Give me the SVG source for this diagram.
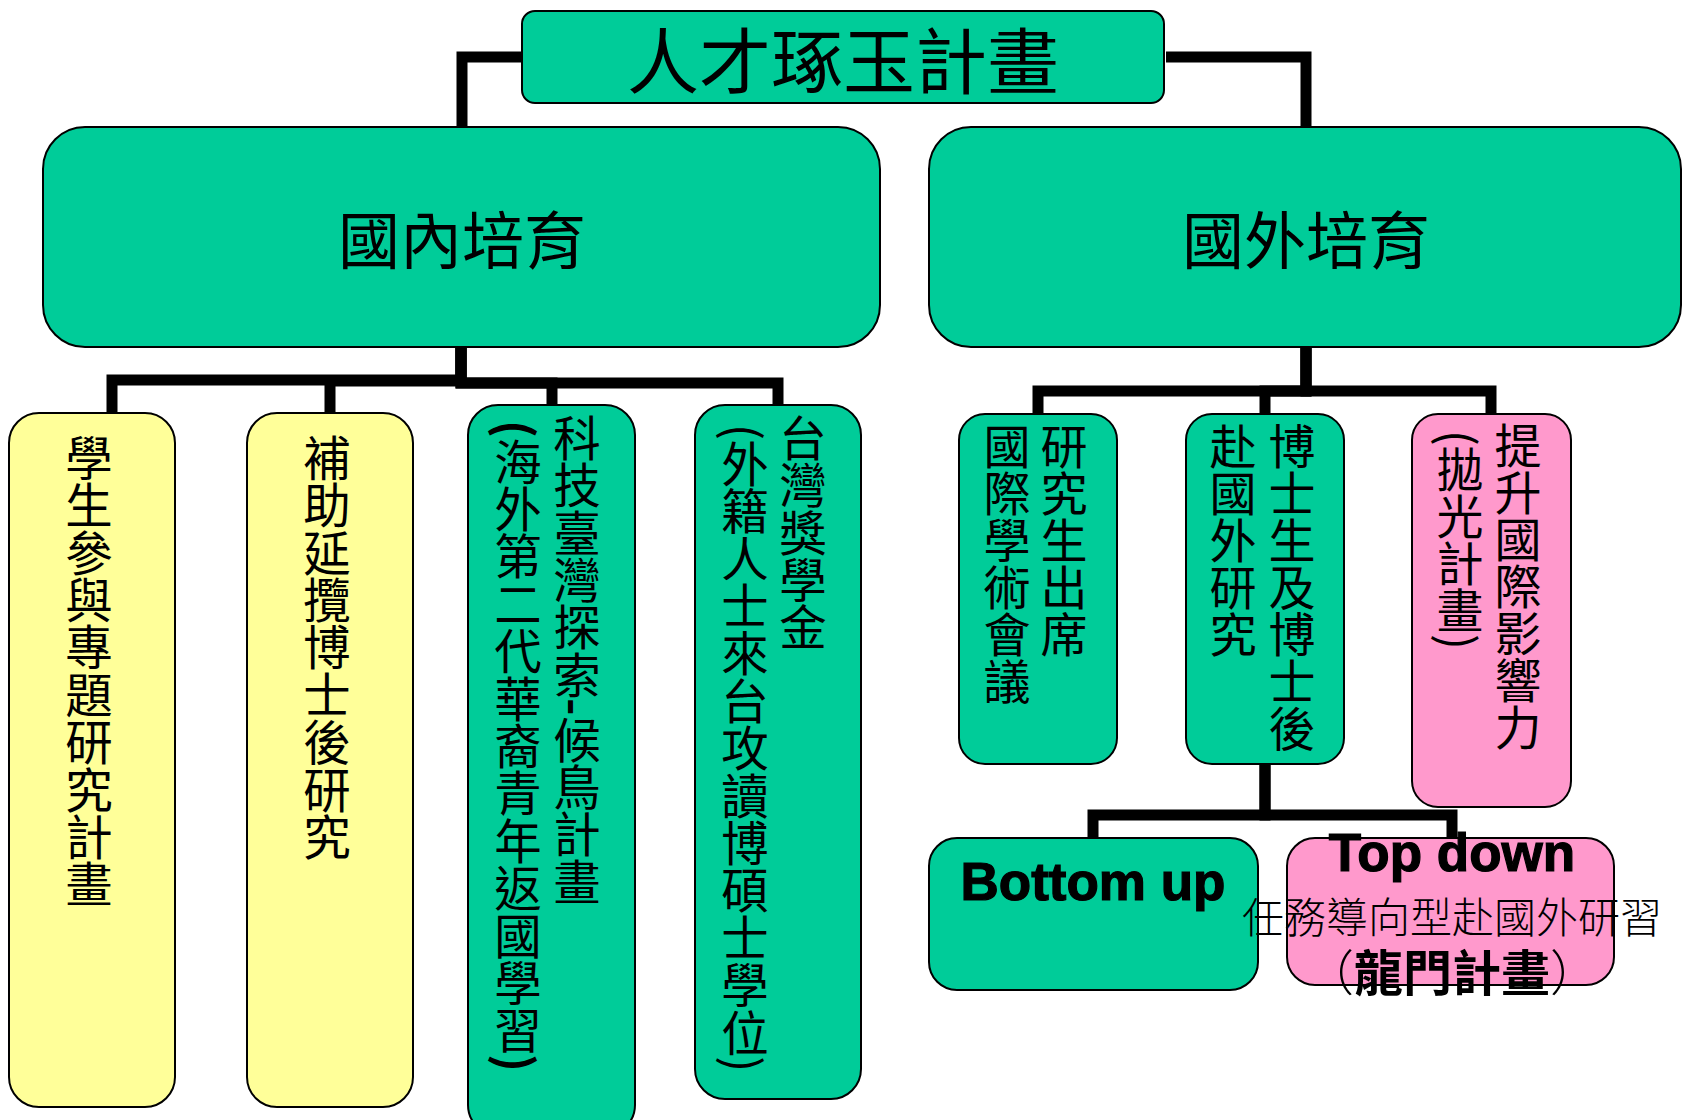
<svg xmlns="http://www.w3.org/2000/svg" width="1684" height="1120" viewBox="0 0 1684 1120">
<style>
.green{fill:#00CC99;stroke:#000;stroke-width:2}
.yellow{fill:#FFFF99;stroke:#000;stroke-width:2}
.pink{fill:#FF99CC;stroke:#000;stroke-width:2}
.conn{fill:none;stroke:#000;stroke-width:11;stroke-linejoin:miter;stroke-linecap:butt}
.cjk{font-family:"Noto Sans CJK TC","Noto Sans CJK SC",sans-serif;fill:#000}
.vt{font-family:"Noto Sans CJK TC","Noto Sans CJK SC",sans-serif;font-size:47.4px;fill:#000;writing-mode:vertical-rl}
.vs{font-size:47px}
.en{font-family:"Liberation Sans",Arial,sans-serif;font-weight:bold;font-size:53px;fill:#000;stroke:#000;stroke-width:1.2}
</style>
<rect width="1684" height="1120" fill="#fff"/>
<g id="connectors">
<path class="conn" d="M522 57 H462 V127"/>
<path class="conn" d="M1166 57 H1306 V127"/>
<path class="conn" d="M461 347 V380 H112 V413"/>
<path class="conn" d="M461 347 V381 H330 V413"/>
<path class="conn" d="M461 347 V383 H552 V405"/>
<path class="conn" d="M461 347 V383 H778 V406"/>
<path class="conn" d="M1306 347 V391 H1038 V415"/>
<path class="conn" d="M1306 347 V391 H1265 V415"/>
<path class="conn" d="M1306 347 V391 H1491 V415"/>
<path class="conn" d="M1265 764 V815 H1093 V838"/>
<path class="conn" d="M1265 764 V815 H1452 V838"/>
</g>
<g id="node-title">
<rect class="green" x="522" y="11" width="642" height="92" rx="13"/>
<text class="cjk" x="843" y="88" font-size="72" text-anchor="middle">人才琢玉計畫</text>
</g>
<g id="node-domestic">
<rect class="green" x="43" y="127" width="837" height="220" rx="42"/>
<text class="cjk" x="462" y="264" font-size="62" text-anchor="middle">國內培育</text>
</g>
<g id="node-foreign">
<rect class="green" x="929" y="127" width="752" height="220" rx="42"/>
<text class="cjk" x="1306" y="264" font-size="62" text-anchor="middle">國外培育</text>
</g>
<g id="node-d1">
<rect class="yellow" x="9" y="413" width="166" height="694" rx="30"/>
<text class="vt" x="89" y="434">學生參與專題研究計畫</text>
</g>
<g id="node-d2">
<rect class="yellow" x="247" y="413" width="166" height="694" rx="30"/>
<text class="vt" x="327" y="434">補助延攬博士後研究</text>
</g>
<g id="node-d3">
<rect class="green" x="468" y="405" width="167" height="730" rx="30"/>
<text class="vt" x="577" y="414">科技臺灣探索<tspan font-weight="bold">-</tspan>候鳥計畫</text>
<text class="vt" x="518" y="420"><tspan font-weight="bold">(</tspan>海外第二代華裔青年返國學習<tspan font-weight="bold">)</tspan></text>
</g>
<g id="node-d4">
<rect class="green" x="695" y="405" width="166" height="694" rx="30"/>
<text class="vt" x="803" y="414">台灣獎學金</text>
<text class="vt" x="745" y="424">(外籍人士來台攻讀博碩士學位)</text>
</g>
<g id="node-f1">
<rect class="green" x="959" y="414" width="158" height="350" rx="26"/>
<text class="vt vs" x="1064" y="423">研究生出席</text>
<text class="vt vs" x="1007" y="423">國際學術會議</text>
</g>
<g id="node-f2">
<rect class="green" x="1186" y="414" width="158" height="350" rx="26"/>
<text class="vt vs" x="1292" y="423">博士生及博士後</text>
<text class="vt vs" x="1233" y="423">赴國外研究</text>
</g>
<g id="node-f3">
<rect class="pink" x="1412" y="414" width="159" height="393" rx="26"/>
<text class="vt vs" x="1518" y="422">提升國際影響力</text>
<text class="vt vs" x="1460" y="430">(拋光計畫)</text>
</g>
<g id="node-bottomup">
<rect class="green" x="929" y="838" width="329" height="152" rx="28"/>
<text class="en" x="1093" y="900" text-anchor="middle">Bottom up</text>
</g>
<g id="node-topdown">
<rect class="pink" x="1287" y="838" width="327" height="147" rx="28"/>
<text class="en" x="1452" y="871" text-anchor="middle">Top down</text>
<text class="cjk" x="1452" y="933" font-size="42" font-weight="300" text-anchor="middle">任務導向型赴國外研習</text>
<text class="cjk" x="1452" y="991" font-size="49" font-weight="bold" text-anchor="middle"><tspan font-weight="300">（</tspan>龍門計畫<tspan font-weight="300">）</tspan></text>
</g>
</svg>
